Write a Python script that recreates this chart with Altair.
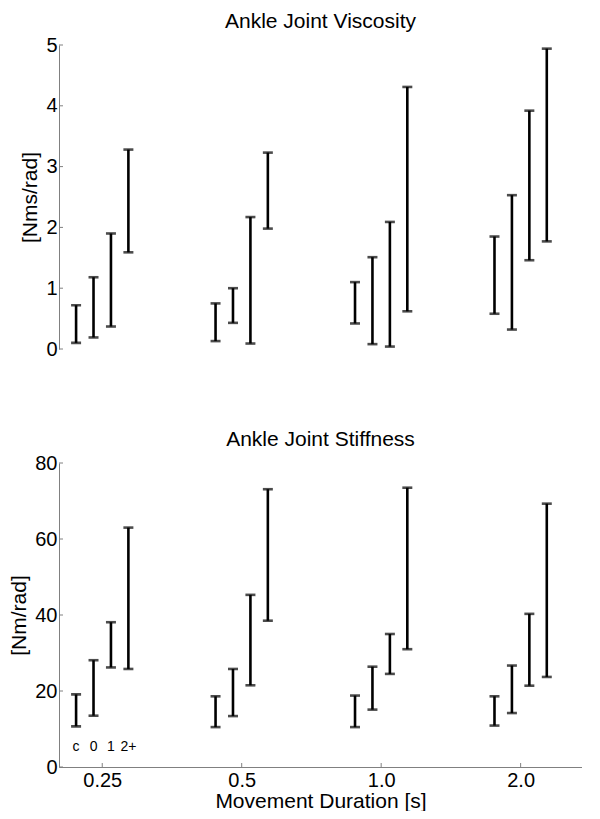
import altair as alt
import pandas as pd

durations = ["0.25", "0.5", "1.0", "2.0"]
conditions = ["c", "0", "1", "2+"]

# per duration group, per condition (c, 0, 1, 2+)
visc_low = [[0.10, 0.19, 0.37, 1.59],
            [0.13, 0.43, 0.09, 1.98],
            [0.42, 0.08, 0.04, 0.62],
            [0.58, 0.32, 1.46, 1.77]]
visc_high = [[0.72, 1.18, 1.90, 3.28],
             [0.75, 1.00, 2.17, 3.23],
             [1.10, 1.51, 2.09, 4.31],
             [1.85, 2.53, 3.92, 4.94]]
stiff_low = [[10.7, 13.5, 26.2, 25.8],
             [10.5, 13.4, 21.5, 38.5],
             [10.5, 15.1, 24.5, 31.0],
             [10.9, 14.2, 21.4, 23.7]]
stiff_high = [[19.1, 28.1, 38.1, 63.0],
              [18.6, 25.8, 45.3, 73.1],
              [18.8, 26.4, 35.0, 73.5],
              [18.6, 26.7, 40.3, 69.3]]

visc_ticks = [0, 1, 2, 3, 4, 5]
stiff_ticks = [0, 20, 40, 60, 80]

FONT = "Liberation Sans"
GRAY = "#808080"
W, H = 523, 304
FS = 20
TFS = 21


def make_df(low, high):
    rows = []
    for gi, d in enumerate(durations):
        for ci, c in enumerate(conditions):
            rows.append({
                "duration": d, "condition": c, "gi": gi, "ci": ci,
                "x": gi + 1 + (ci - 1.5) * 0.125,
                "low": low[gi][ci], "high": high[gi][ci],
            })
    return pd.DataFrame(rows)


label_expr = "[" + ",".join("'%s'" % d for d in durations) + "][datum.value - 1]"


def panel(title, low, high, ticks, ytitle, show_x):
    df = make_df(low, high)
    xscale = alt.Scale(domain=[0.69, 4.44], nice=False, zero=False)
    yscale = alt.Scale(domain=[ticks[0], ticks[-1]], nice=False)
    if show_x:
        xaxis = alt.Axis(values=list(range(1, len(durations) + 1)), labelExpr=label_expr,
                         title="Movement Duration [s]", ticks=False, grid=False,
                         domain=True, domainWidth=1,
                         domainColor=GRAY, labelFontSize=FS, labelPadding=3,
                         titleFontSize=TFS, titlePadding=0, titleFontWeight="normal",
                         labelColor="black", titleColor="black")
    else:
        xaxis = None
    yaxis = alt.Axis(values=ticks, format="d", ticks=False, grid=False,
                     domain=True, domainWidth=1, domainColor=GRAY,
                     labelFontSize=FS, labelPadding=2, title=ytitle,
                     titleFontSize=TFS, titlePadding=5, titleFontWeight="normal",
                     labelColor="black", titleColor="black")
    base = alt.Chart(df)
    rule = base.mark_rule(strokeWidth=2.6, color="black").encode(
        x=alt.X("x:Q", scale=xscale, axis=xaxis),
        y=alt.Y("low:Q", scale=yscale, axis=yaxis),
        y2="high:Q",
    )
    cap_lo = base.mark_tick(orient="horizontal", size=10, thickness=2.6, color="black").encode(
        x=alt.X("x:Q", scale=xscale, axis=xaxis), y=alt.Y("low:Q", scale=yscale, axis=yaxis))
    cap_hi = base.mark_tick(orient="horizontal", size=10, thickness=2.6, color="black").encode(
        x=alt.X("x:Q", scale=xscale, axis=xaxis), y=alt.Y("high:Q", scale=yscale, axis=yaxis))
    ytk = alt.Chart(pd.DataFrame({"v": ticks})).mark_rule(color=GRAY, strokeWidth=1).encode(
        y=alt.Y("v:Q", scale=yscale, axis=yaxis), x=alt.value(0), x2=alt.value(4))
    ttl = alt.Chart(pd.DataFrame({"t": [title]})).mark_text(
        fontSize=TFS, font=FONT, baseline="alphabetic", align="center", color="black"
    ).encode(x=alt.value(W / 2), y=alt.value(-17), text="t:N")
    layers = [rule, cap_lo, cap_hi, ytk, ttl]
    if show_x:
        xtk = alt.Chart(pd.DataFrame({"g": list(range(1, len(durations) + 1))})).mark_rule(
            color=GRAY, strokeWidth=1).encode(
            x=alt.X("g:Q", scale=xscale, axis=xaxis), y=alt.value(H), y2=alt.value(H - 4))
        txt = alt.Chart(df[df["gi"] == 0]).mark_text(fontSize=14, font=FONT, baseline="middle",
                                                      color="black").encode(
            x=alt.X("x:Q", scale=xscale, axis=xaxis), y=alt.value(H - 20), text="condition:N")
        layers += [xtk, txt]
    return alt.layer(*layers).properties(width=W, height=H)


top = panel("Ankle Joint Viscosity", visc_low, visc_high, visc_ticks, "[Nms/rad]", False)
bottom = panel("Ankle Joint Stiffness", stiff_low, stiff_high, stiff_ticks, "[Nm/rad]", True)

chart = alt.vconcat(top, bottom, spacing=70).properties(
    padding={"left": 0, "top": 3, "right": 0, "bottom": 0}
).configure_view(stroke=None).configure_axis(
    labelFont=FONT, titleFont=FONT
)

chart.save("out.html", embed_options={"renderer": "svg", "actions": False})
